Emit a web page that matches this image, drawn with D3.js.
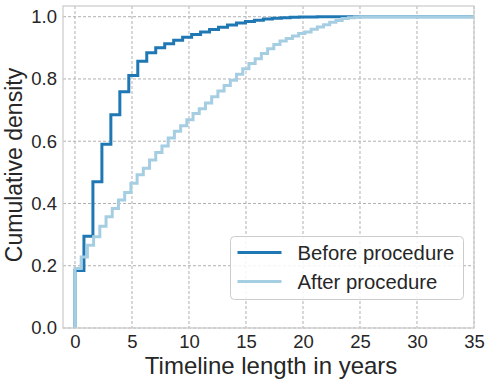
<!DOCTYPE html>
<head>
<meta charset="utf-8">
<script src="https://d3js.org/d3.v7.min.js"></script>
<style>
body { margin: 0; background-color: #ffffff; }
text { font-family: Arial, "Liberation Sans", sans-serif; fill: #262626; }
.grid line { stroke: #b0b0b0; stroke-width: 1; stroke-dasharray: 3,2; }
</style>
</head>
<body>
<div id="my_dataviz"></div>
<script>

// cumulative step histogram, one value per bin, bins start at 0
var seriesNames = ["Before procedure", "After procedure"];
var seriesColors = ["#1f78b4", "#a6cee3"];
var binWidths = [0.787, 0.545];

var beforeValues = [0.185, 0.295, 0.470, 0.590, 0.685, 0.759, 0.811, 0.857, 0.884, 0.900,
  0.913, 0.924, 0.934, 0.943, 0.951, 0.959, 0.966, 0.973, 0.980, 0.985,
  0.989, 0.993, 0.995, 0.997, 0.998, 0.999, 0.999, 1.000];

var afterValues = [0.191, 0.228, 0.266, 0.293, 0.327, 0.357, 0.384, 0.411, 0.435, 0.465,
  0.492, 0.513, 0.540, 0.564, 0.585, 0.610, 0.632, 0.650, 0.669, 0.689,
  0.704, 0.723, 0.743, 0.761, 0.779, 0.796, 0.815, 0.833, 0.850, 0.865,
  0.882, 0.897, 0.911, 0.922, 0.930, 0.938, 0.946, 0.951, 0.960, 0.967,
  0.974, 0.982, 0.988, 0.994, 0.997, 0.999, 1.000];

var xTicks = [0, 5, 10, 15, 20, 25, 30, 35];
var yTicks = [0.0, 0.2, 0.4, 0.6, 0.8, 1.0];

var width = 486, height = 382;
var margin = {top: 6, right: 12, bottom: 54, left: 63};
var plotW = width - margin.left - margin.right,
    plotH = height - margin.top - margin.bottom;

var svg = d3.select("#my_dataviz")
  .append("svg")
    .attr("width", width)
    .attr("height", height);

var g = svg.append("g")
  .attr("transform", "translate(" + margin.left + "," + margin.top + ")");

var x = d3.scaleLinear().domain([-1.05, 35]).range([0, plotW]);
var y = d3.scaleLinear().domain([0, 1.0344]).range([plotH, 0]);

// grid
g.append("g").attr("class", "grid")
  .selectAll("line").data(xTicks).enter().append("line")
    .attr("x1", d => x(d)).attr("x2", d => x(d))
    .attr("y1", 0).attr("y2", plotH);
g.append("g").attr("class", "grid")
  .selectAll("line").data(yTicks).enter().append("line")
    .attr("x1", 0).attr("x2", plotW)
    .attr("y1", d => y(d)).attr("y2", d => y(d));

// axes, no tick marks, seaborn style
var xAxis = g.append("g")
  .attr("transform", "translate(0," + plotH + ")")
  .call(d3.axisBottom(x).tickValues(xTicks).tickFormat(d3.format("d")).tickSize(0).tickPadding(7));
xAxis.select(".domain").remove();
xAxis.selectAll("text").style("font-size", "18.5px").style("fill", "#262626");

var yAxis = g.append("g")
  .call(d3.axisLeft(y).tickValues(yTicks).tickFormat(d3.format(".1f")).tickSize(0).tickPadding(6));
yAxis.select(".domain").remove();
yAxis.selectAll("text").style("font-size", "18.5px").style("fill", "#262626");

// clip for the step lines
g.append("clipPath").attr("id", "plotclip")
  .append("rect").attr("width", plotW).attr("height", plotH);

function stepPoints(values, w) {
  var pts = [[0, 0]];
  values.forEach(function(v, i) {
    pts.push([i * w, v]);
    pts.push([(i + 1) * w, v]);
  });
  // last bin runs out past the right edge
  pts[pts.length - 1][0] = 36;
  return pts;
}

var line = d3.line().x(d => x(d[0])).y(d => y(d[1]));
var allValues = [beforeValues, afterValues];

allValues.forEach(function(vals, k) {
  g.append("path")
    .datum(stepPoints(vals, binWidths[k]))
    .attr("clip-path", "url(#plotclip)")
    .attr("fill", "none")
    .attr("stroke", seriesColors[k])
    .attr("stroke-width", 3)
    .attr("stroke-linejoin", "miter")
    .attr("d", line);
});

// frame
g.append("rect")
  .attr("width", plotW).attr("height", plotH)
  .attr("fill", "none").attr("stroke", "#cccccc").attr("stroke-width", 1.25);

// axis labels
svg.append("text")
  .attr("x", margin.left + x(17.2)).attr("y", 374)
  .attr("text-anchor", "middle")
  .style("font-size", "24px")
  .text("Timeline length in years");

svg.append("text")
  .attr("transform", "translate(21.5," + 165 + ") rotate(-90)")
  .attr("text-anchor", "middle")
  .style("font-size", "23px")
  .text("Cumulative density");

// legend
var leg = svg.append("g").attr("transform", "translate(230.5,236.5)");
leg.append("rect")
  .attr("width", 233).attr("height", 63).attr("rx", 4)
  .attr("fill", "white").attr("fill-opacity", 0.85)
  .attr("stroke", "#cccccc").attr("stroke-width", 1);
seriesNames.forEach(function(name, k) {
  var ly = 16 + k * 29;
  leg.append("line")
    .attr("x1", 7).attr("x2", 51).attr("y1", ly).attr("y2", ly)
    .attr("stroke", seriesColors[k]).attr("stroke-width", 3);
  leg.append("text")
    .attr("x", 67).attr("y", ly + 7)
    .style("font-size", "20.3px")
    .text(name);
});

</script>
</body>
